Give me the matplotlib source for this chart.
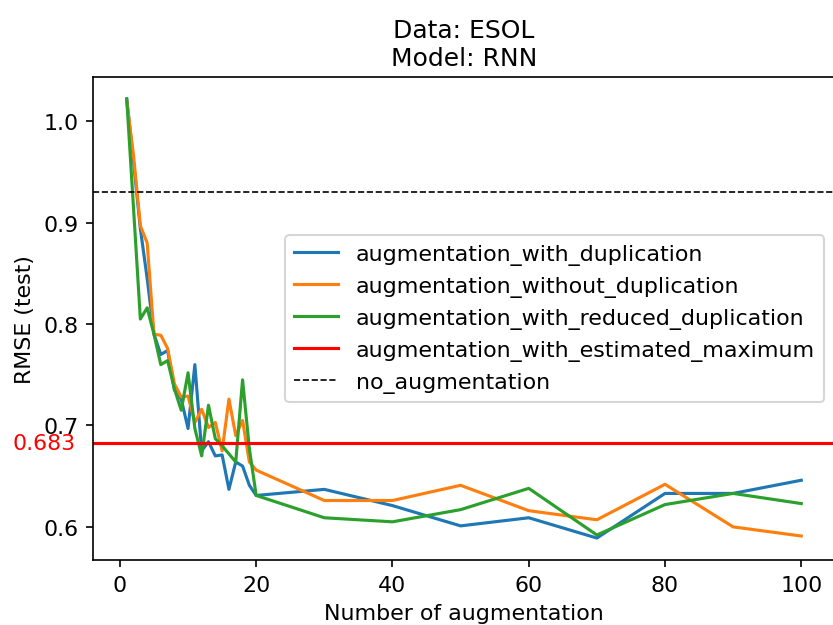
import matplotlib
matplotlib.use('Agg')
import matplotlib.pyplot as plt
import matplotlib.transforms as mtransforms

# number of augmentation
n_aug = [1, 2, 3, 4, 5, 6, 7, 8, 9, 10, 11, 12, 13, 14, 15, 16, 17, 18, 19, 20,
         30, 40, 50, 60, 70, 80, 90, 100]

rmse_with_dup = [1.022, 0.960, 0.894, 0.845, 0.790, 0.770, 0.774, 0.735, 0.726, 0.697,
                 0.760, 0.675, 0.684, 0.670, 0.671, 0.637, 0.664, 0.660, 0.641, 0.631,
                 0.637, 0.621, 0.601, 0.609, 0.589, 0.633, 0.633, 0.646]
rmse_without_dup = [1.020, 0.966, 0.897, 0.880, 0.790, 0.789, 0.776, 0.741, 0.728, 0.729,
                    0.703, 0.716, 0.698, 0.703, 0.675, 0.726, 0.690, 0.705, 0.664, 0.656,
                    0.626, 0.626, 0.641, 0.616, 0.607, 0.642, 0.600, 0.591]
rmse_reduced_dup = [1.022, 0.914, 0.805, 0.816, 0.790, 0.760, 0.764, 0.736, 0.715, 0.752,
                    0.697, 0.670, 0.720, 0.687, 0.680, 0.672, 0.664, 0.745, 0.677, 0.631,
                    0.609, 0.605, 0.617, 0.638, 0.592, 0.622, 0.633, 0.623]
estimated_max = 0.683
no_augmentation = 0.930

plt.rcParams['font.size'] = 10.6

fig = plt.figure(figsize=(833 / 150, 626 / 150), dpi=150)
ax = fig.add_axes([93 / 833, 1 - 561 / 626, 742 / 833, 483 / 626])

ax.plot(n_aug, rmse_with_dup, label='augmentation_with_duplication')
ax.plot(n_aug, rmse_without_dup, label='augmentation_without_duplication')
ax.plot(n_aug, rmse_reduced_dup, label='augmentation_with_reduced_duplication')
ax.axhline(estimated_max, color='red', linewidth=1.5, label='augmentation_with_estimated_maximum')
ax.axhline(no_augmentation, color='black', linestyle='--', linewidth=0.8, label='no_augmentation')

trans = mtransforms.blended_transform_factory(ax.transAxes, ax.transData)
ax.text(-0.023, estimated_max, '%.3f' % estimated_max, color='red', ha='right', va='center',
        transform=trans)

ax.set_title('Data: ESOL\nModel: RNN', fontsize=12)
ax.set_xlabel('Number of augmentation')
ax.set_ylabel('RMSE (test)')
ax.legend(loc='center right')

fig.savefig('out.png', dpi=150)
